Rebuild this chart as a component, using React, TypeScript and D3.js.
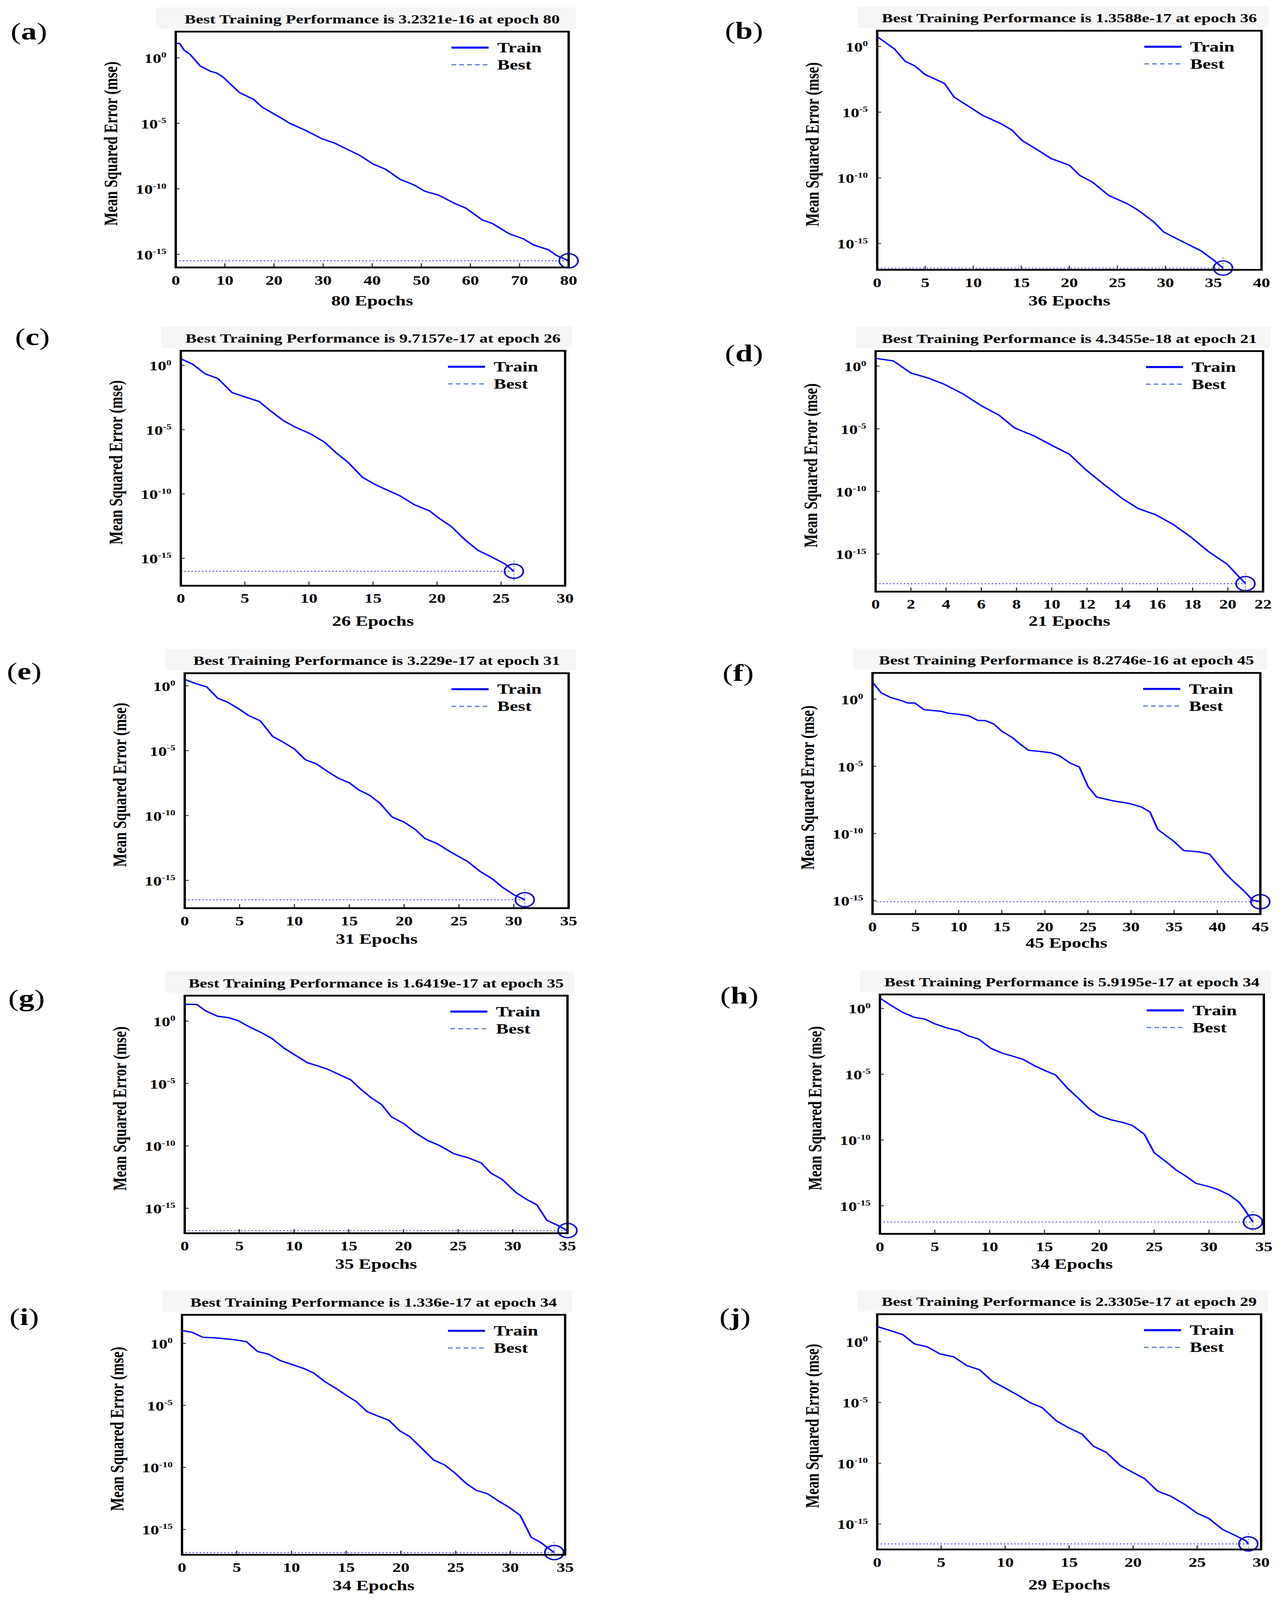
import * as d3 from 'd3'

// panel letters, best performance text and epochs
const panelLetters = ['a', 'b', 'c', 'd', 'e', 'f', 'g', 'h', 'i', 'j']
const bestLabels = ['3.2321e-16', '1.3588e-17', '9.7157e-17', '4.3455e-18', '3.229e-17', '8.2746e-16', '1.6419e-17', '5.9195e-17', '1.336e-17', '2.3305e-17']
const bestEpochs = [80, 36, 26, 21, 31, 45, 35, 34, 34, 29]
const totalEpochs = [80, 36, 26, 21, 31, 45, 35, 34, 34, 29]

// training curves: epoch and log10(mse)
const epochsA = [0, 0.8, 1.7, 2.9, 5, 7.1, 8.4, 9.6, 13, 15.9, 17.6, 21.8, 23.1, 26.4, 29.8, 32.3, 34.4, 37.3, 40.2, 42.7, 45.7, 48.6, 50.7, 53.6, 56.6, 59.1, 62.4, 64.5, 67.9, 70.8, 72.9, 75.9, 77.5, 80]
const logMseA = [1.1, 1.1, 0.58, 0.27, -0.63, -1.03, -1.17, -1.46, -2.66, -3.18, -3.77, -4.67, -4.98, -5.53, -6.18, -6.5, -6.89, -7.41, -8.11, -8.5, -9.28, -9.72, -10.18, -10.49, -11.08, -11.48, -12.37, -12.65, -13.43, -13.82, -14.29, -14.65, -15.08, -15.49]

const epochsB = [0, 0.9, 1.8, 2.9, 3.9, 5, 7, 8, 9.5, 11, 12.9, 14, 15.1, 16.6, 18.1, 20, 21.1, 22.4, 24.1, 26, 27.1, 28.8, 29.8, 30.9, 32.4, 33.7, 35, 36]
const logMseB = [0.75, 0.28, -0.19, -1.12, -1.47, -2.14, -2.81, -3.85, -4.55, -5.25, -5.88, -6.35, -7.17, -7.83, -8.53, -9.04, -9.82, -10.32, -11.34, -11.96, -12.43, -13.36, -14.11, -14.53, -15.08, -15.55, -16.25, -16.87]

const epochsC = [0, 0.9, 1.9, 2.9, 4, 5.1, 6.1, 7, 8, 8.9, 10.1, 11.2, 12.1, 13.1, 14.2, 15.2, 16.2, 17.1, 18.2, 19.4, 20.2, 21.1, 22.2, 23.2, 24.2, 25.3, 26]
const logMseC = [0.52, 0.11, -0.65, -1.02, -2.11, -2.48, -2.8, -3.53, -4.29, -4.78, -5.31, -5.96, -6.77, -7.58, -8.72, -9.28, -9.74, -10.14, -10.82, -11.31, -11.92, -12.52, -13.58, -14.39, -14.87, -15.44, -16.01]

const epochsD = [0, 1, 2, 3, 3.9, 5, 6, 7, 7.9, 9, 10, 11, 11.9, 13, 14, 14.9, 15.9, 16.9, 17.9, 18.9, 19.95, 21]
const logMseD = [0.62, 0.42, -0.55, -0.96, -1.45, -2.25, -3.16, -3.91, -4.94, -5.57, -6.32, -7.03, -8.23, -9.48, -10.56, -11.36, -11.86, -12.64, -13.64, -14.8, -15.8, -17.36]

const epochsE = [0, 1, 2, 3, 3.9, 4.9, 5.8, 6.9, 8, 9, 10, 11, 12, 13.1, 14, 15, 15.9, 16.9, 17.8, 18.9, 20, 21, 21.9, 23, 24.2, 25.8, 26.9, 28.1, 29, 30, 31]
const logMseE = [0.49, 0.17, -0.08, -0.95, -1.26, -1.76, -2.28, -2.71, -3.89, -4.36, -4.87, -5.7, -6.02, -6.65, -7.12, -7.48, -8.04, -8.46, -9.06, -10.11, -10.51, -11.06, -11.77, -12.16, -12.79, -13.55, -14.29, -14.92, -15.55, -16.1, -16.49]

const epochsF = [0, 1, 2.1, 3.1, 4.1, 4.9, 6, 7.9, 8.8, 10, 11.2, 12.2, 13.1, 14.1, 15, 16.2, 17.2, 18.1, 19.1, 20.7, 21.7, 22.9, 24, 25, 26, 27.9, 29.8, 31.2, 32.2, 33.1, 35, 36.1, 37.9, 39.1, 40.8, 41.9, 43.1, 44.1, 45]
const logMseF = [1.26, 0.47, 0.12, -0.06, -0.29, -0.29, -0.79, -0.9, -1.05, -1.13, -1.25, -1.58, -1.6, -1.86, -2.39, -2.85, -3.38, -3.81, -3.87, -3.99, -4.22, -4.75, -5.06, -6.5, -7.29, -7.57, -7.77, -8.03, -8.41, -9.7, -10.61, -11.27, -11.37, -11.53, -12.87, -13.58, -14.27, -14.96, -15.08]

const epochsG = [0, 1.1, 1.9, 3, 4, 4.9, 5.9, 7, 8, 9.1, 10, 11.2, 12.1, 13.1, 14.2, 15.2, 16.1, 17, 18, 18.9, 20.1, 21, 22.2, 23.3, 24.6, 25.9, 27.1, 28, 29, 30.3, 31.3, 32.2, 33.1, 34.2, 35]
const logMseG = [1.34, 1.34, 0.82, 0.39, 0.28, 0.03, -0.46, -0.92, -1.41, -2.18, -2.67, -3.33, -3.57, -3.87, -4.31, -4.72, -5.46, -6.11, -6.69, -7.67, -8.25, -8.9, -9.56, -9.97, -10.62, -10.95, -11.36, -12.18, -12.67, -13.74, -14.31, -14.72, -15.95, -16.41, -16.78]

const epochsH = [0, 1, 2.1, 3.1, 4.1, 5, 6.1, 7.2, 8.1, 9, 10.1, 11.2, 12.2, 13.1, 14.2, 15.1, 16, 17.1, 18.2, 19.1, 20, 21.1, 22.1, 23, 24.1, 25, 26.1, 27, 27.9, 28.8, 29.9, 30.8, 31.8, 32.7, 33.2, 34]
const logMseH = [0.78, 0.23, -0.31, -0.67, -0.81, -1.17, -1.48, -1.71, -2.1, -2.33, -3.03, -3.42, -3.65, -3.89, -4.4, -4.74, -5.05, -6.06, -6.92, -7.65, -8.16, -8.47, -8.66, -8.89, -9.56, -10.96, -11.66, -12.28, -12.75, -13.29, -13.52, -13.76, -14.15, -14.69, -15.23, -16.23]

const epochsI = [0, 0.9, 1.9, 3.1, 4, 4.9, 5.9, 6.9, 7.9, 9, 10, 11.1, 12, 13.1, 14.1, 15, 15.9, 16.9, 17.8, 18.9, 19.9, 20.8, 21.9, 23, 24, 24.9, 26, 26.9, 27.9, 28.8, 29.9, 30.9, 31.9, 32.7, 34]
const logMseI = [1.03, 0.9, 0.49, 0.44, 0.36, 0.28, 0.13, -0.66, -0.87, -1.4, -1.69, -2.02, -2.38, -3.12, -3.65, -4.19, -4.68, -5.5, -5.83, -6.21, -7.06, -7.52, -8.46, -9.41, -9.81, -10.43, -11.33, -11.86, -12.12, -12.65, -13.23, -13.88, -15.64, -16.02, -16.87]

const epochsJ = [0, 1, 2, 2.9, 3.9, 4.9, 6, 7, 8, 9, 9.9, 10.9, 12, 12.9, 14, 14.9, 16, 16.9, 17.9, 19, 20, 20.9, 21.9, 22.9, 24, 25, 25.9, 27, 28, 28.8, 29]
const logMseJ = [1.25, 0.92, 0.58, -0.17, -0.42, -1, -1.25, -1.97, -2.31, -3.26, -3.76, -4.34, -5.04, -5.43, -6.51, -7.05, -7.6, -8.6, -9.1, -10.19, -10.77, -11.27, -12.28, -12.69, -13.36, -14.11, -14.53, -15.45, -15.95, -16.37, -16.63]

const epochSeries = [epochsA, epochsB, epochsC, epochsD, epochsE, epochsF, epochsG, epochsH, epochsI, epochsJ]
const logMseSeries = [logMseA, logMseB, logMseC, logMseD, logMseE, logMseF, logMseG, logMseH, logMseI, logMseJ]

const yTickExps = [0, -5, -10, -15]

// where each panel sits on the page (pixels): axes box, y extent in decades, x extent
const layout = [
  { box: [450, 107, 1006, 798], yExp: [-16, 2], xMax: 80, xStep: 10, tag: [74, 111], xLabDy: 112 },
  { box: [2246, 104, 984, 809], yExp: [-17, 1.2], xMax: 40, xStep: 5, tag: [1905, 109], xLabDy: 104 },
  { box: [463, 1187, 984, 795], yExp: [-17.14, 1.14], xMax: 30, xStep: 5, tag: [83, 1145], xLabDy: 120 },
  { box: [2242, 1188, 992, 814], yExp: [-18, 1.2], xMax: 22, xStep: 2, tag: [1905, 1200], xLabDy: 100 },
  { box: [473, 2278, 983, 795], yExp: [-17.14, 0.97], xMax: 35, xStep: 5, tag: [62, 2277], xLabDy: 104 },
  { box: [2234, 2277, 993, 816], yExp: [-16, 1.95], xMax: 45, xStep: 5, tag: [1890, 2282], xLabDy: 97 },
  { box: [473, 3369, 980, 804], yExp: [-17, 2.04], xMax: 35, xStep: 5, tag: [68, 3383], xLabDy: 104 },
  { box: [2253, 3365, 983, 810], yExp: [-17.13, 1.06], xMax: 35, xStep: 5, tag: [1893, 3374], xLabDy: 102 },
  { box: [466, 4449, 981, 812], yExp: [-17.05, 2.3], xMax: 35, xStep: 5, tag: [62, 4461], xLabDy: 104 },
  { box: [2246, 4447, 983, 796], yExp: [-17.09, 2.26], xMax: 30, xStep: 5, tag: [1882, 4462], xLabDy: 119 },
]

const W = 3285
const H = 5414
const FONT = '"Liberation Serif", "Times New Roman", serif'
const TRAIN = '#0000ff'
const BEST = '#6a6ae8'

function Panel({ i }: { i: number }) {
  const L = layout[i]
  const [bx, by, bw, bh] = L.box
  const right = bx + bw
  const bottom = by + bh
  const x = d3.scaleLinear().domain([0, L.xMax]).range([bx, right])
  const y = d3.scaleLog().domain([10 ** L.yExp[0], 10 ** L.yExp[1]]).range([bottom, by])
  const pts: [number, number][] = epochSeries[i].map((e, k) => [e, 10 ** logMseSeries[i][k]])
  const line = d3.line<[number, number]>().x((d) => x(d[0])).y((d) => y(d[1]))
  const best = Number(bestLabels[i])
  const bxp = x(bestEpochs[i])
  const byp = y(best)
  const xTicks = d3.range(0, L.xMax + L.xStep / 2, L.xStep)

  return (
    <g>
      {/* panel tag */}
      <text x={L.tag[0]} y={L.tag[1] + 22} fontFamily={FONT} fontSize={80} textAnchor="middle">
        (<tspan fontWeight="bold">{panelLetters[i]}</tspan>)
      </text>

      {/* title */}
      <rect x={bx - 50} y={by - 82} width={bw + 68} height={72} fill="#f6f6f6" />
      <text x={bx + bw / 2} y={by - 28} fontFamily={FONT} fontSize={43} fontWeight="bold" textAnchor="middle">
        {`Best Training Performance is ${bestLabels[i]} at epoch ${bestEpochs[i]}`}
      </text>

      {/* best markers */}
      <line x1={bx} x2={bxp} y1={byp} y2={byp} stroke={BEST} strokeWidth={3.5} strokeDasharray="4 5" />
      <line x1={bxp} x2={bxp} y1={byp - 36} y2={Math.min(byp + 36, bottom)} stroke={BEST} strokeWidth={2.5} strokeDasharray="4 5" />

      {/* train curve */}
      <path d={line(pts) ?? ''} fill="none" stroke={TRAIN} strokeWidth={4.5} strokeLinejoin="round" />
      <circle cx={bxp} cy={byp} r={24} fill="none" stroke="#1212c8" strokeWidth={4.5} />

      {/* ticks */}
      {xTicks.map((t) => (
        <g key={'x' + t}>
          <line x1={x(t)} x2={x(t)} y1={bottom} y2={bottom - 14} stroke="#333" strokeWidth={3} />
          <text x={x(t)} y={bottom + 58} fontFamily={FONT} fontSize={44} fontWeight="bold" textAnchor="middle">
            {t}
          </text>
        </g>
      ))}
      {yTickExps.map((e) => (
        <g key={'y' + e}>
          <line x1={bx} x2={bx + 10} y1={y(10 ** e)} y2={y(10 ** e)} stroke="#333" strokeWidth={3} />
          <text x={bx - 24} y={y(10 ** e) + 17} fontFamily={FONT} fontSize={44} fontWeight="bold" textAnchor="end">
            10
            <tspan fontSize={26} dy={-18}>
              {e}
            </tspan>
          </text>
        </g>
      ))}

      {/* axes box */}
      <rect x={bx} y={by} width={bw} height={bh} fill="none" stroke="#000" strokeWidth={6} />

      {/* legend */}
      <line x1={right - 300} x2={right - 205} y1={by + 54} y2={by + 54} stroke={TRAIN} strokeWidth={7} />
      <text x={right - 183} y={by + 70} fontFamily={FONT} fontSize={48} fontWeight="bold">
        Train
      </text>
      <line x1={right - 300} x2={right - 205} y1={by + 112} y2={by + 112} stroke="#5b7fd0" strokeWidth={4} strokeDasharray="12 8" />
      <text x={right - 183} y={by + 128} fontFamily={FONT} fontSize={48} fontWeight="bold">
        Best
      </text>

      {/* axis labels */}
      <text x={bx + bw / 2} y={bottom + L.xLabDy + 16} fontFamily={FONT} fontSize={48} fontWeight="bold" textAnchor="middle">
        {`${totalEpochs[i]} Epochs`}
      </text>
      <text
        transform={`translate(${bx - 150},${by + bh / 2 - 20}) rotate(-90)`}
        fontFamily={FONT}
        fontSize={48}
        fontWeight="bold"
        textAnchor="middle"
      >
        Mean Squared Error (mse)
      </text>
    </g>
  )
}

export default function App() {
  // the browser window is shorter than the figure, so the whole figure is
  // fitted into what is visible (same width, height squeezed)
  const viewH = Math.min(H, typeof window !== 'undefined' && window.innerHeight ? window.innerHeight : H)
  return (
    <div style={{ margin: -8, width: W, height: viewH, overflow: 'hidden' }}>
      <svg
        width={W}
        height={viewH}
        viewBox={`0 0 ${W} ${H}`}
        preserveAspectRatio="none"
        style={{ display: 'block', background: '#fff' }}
      >
        <rect width={W} height={H} fill="#fff" />
        {panelLetters.map((_, i) => (
          <Panel key={i} i={i} />
        ))}
      </svg>
    </div>
  )
}
